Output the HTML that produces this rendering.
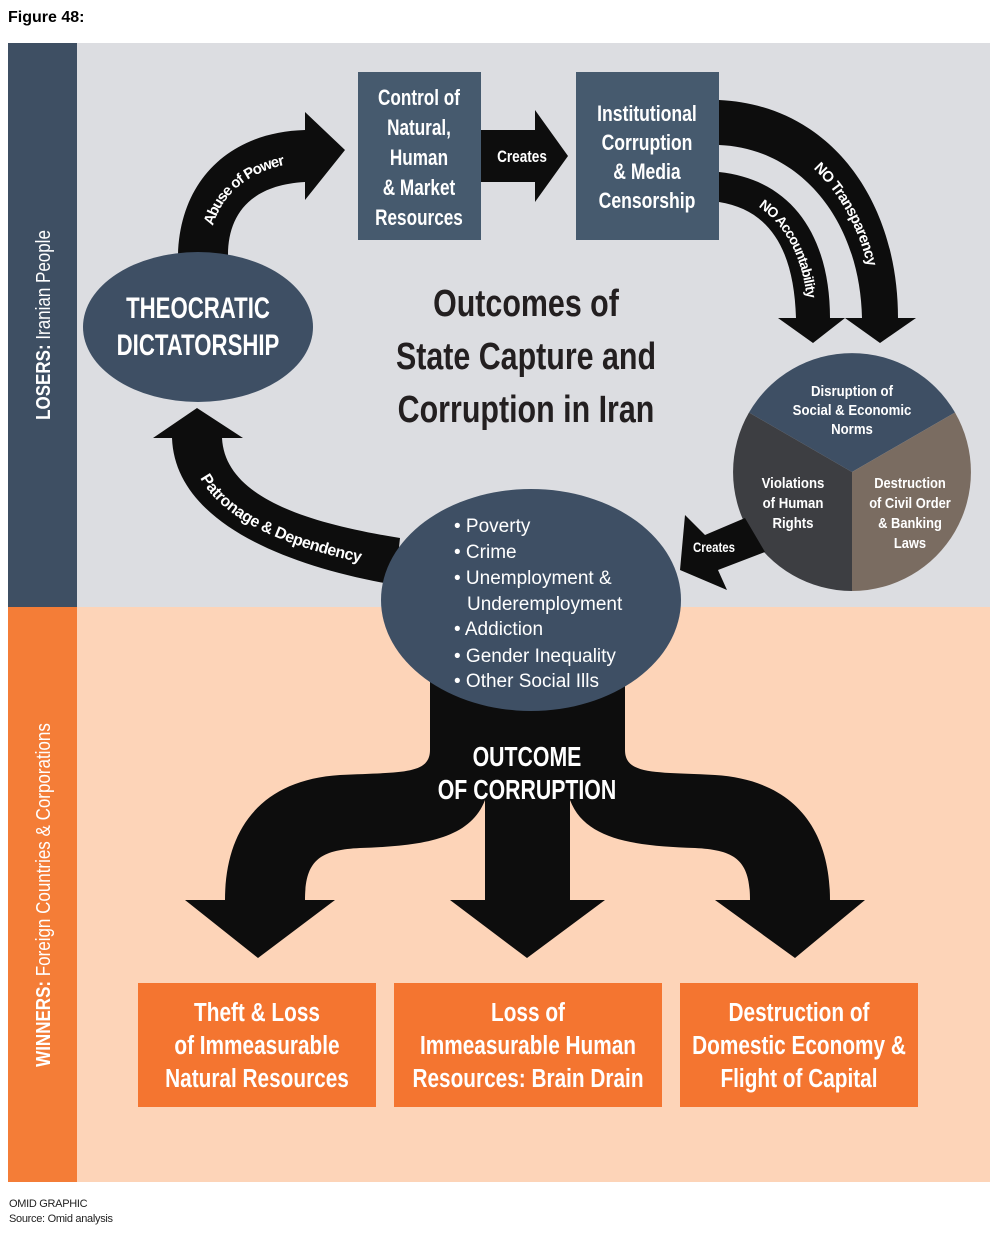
<!DOCTYPE html>
<html><head><meta charset="utf-8"><style>
html,body{margin:0;padding:0;background:#fff;}
svg{display:block;}
.c{font-family:"Liberation Sans Narrow","Liberation Sans",sans-serif;font-weight:bold;}
.r{font-family:"Liberation Sans",sans-serif;}
</style></head><body>
<svg width="1000" height="1236" viewBox="0 0 1000 1236" xmlns="http://www.w3.org/2000/svg">
<text x="8" y="22" class="r" font-weight="bold" font-size="16" fill="#000">Figure 48:</text>
<rect x="8" y="43" width="982" height="564" fill="#dcdde1"/>
<rect x="8" y="607" width="982" height="575" fill="#fdd4b8"/>
<rect x="8" y="43" width="69" height="564" fill="#3e4f63"/>
<rect x="8" y="607" width="69" height="575" fill="#f47d37"/>
<text transform="translate(50,325) rotate(-90) scale(0.85,1)" text-anchor="middle" class="c" font-size="20" fill="#fff">LOSERS:<tspan font-weight="normal"> Iranian People</tspan></text>
<text transform="translate(50,895) rotate(-90) scale(0.85,1)" text-anchor="middle" class="c" font-size="20" fill="#fff">WINNERS:<tspan font-weight="normal"> Foreign Countries &amp; Corporations</tspan></text>

<defs>
<path id="pAbuse" d="M203,252 C205,190 250,160 305,156"/>
<path id="pTrans" d="M719,122 C810,125 878,210 880,318"/>
<path id="pAcc" d="M719,187 C780,195 812,250 813,318"/>
<path id="pPat" d="M197,445 C200,510 290,545 392,562"/>
</defs>

<path d="M178,255 C180,180 230,132 305,130 L305,112 L345,150 L305,200 L305,182 C250,185 228,215 228,255 Z" fill="#0d0d0d"/>
<text class="c" font-size="15" letter-spacing="-0.6" fill="#fff" dy="6"><textPath href="#pAbuse" startOffset="52%" text-anchor="middle">Abuse of Power</textPath></text>

<rect x="358" y="72" width="123" height="168" fill="#465a6e"/>
<g class="c" font-size="22" fill="#fff" text-anchor="middle" transform="translate(419,0) scale(0.78,1) translate(-419,0)">
<text x="419" y="105">Control of</text><text x="419" y="135">Natural,</text><text x="419" y="165">Human</text><text x="419" y="195">&amp; Market</text><text x="419" y="225">Resources</text>
</g>
<path d="M481,130 L535,130 L535,110 L568,156 L535,202 L535,182 L481,182 Z" fill="#0d0d0d"/>
<text x="522" y="162" class="c" font-size="17" fill="#fff" text-anchor="middle" transform="translate(522,0) scale(0.8,1) translate(-522,0)">Creates</text>

<rect x="576" y="72" width="143" height="168" fill="#465a6e"/>
<g class="c" font-size="22" fill="#fff" text-anchor="middle" transform="translate(647,0) scale(0.8,1) translate(-647,0)">
<text x="647" y="121">Institutional</text><text x="647" y="150">Corruption</text><text x="647" y="179">&amp; Media</text><text x="647" y="208">Censorship</text>
</g>

<path d="M719,100 C830,105 898,200 898,318 L916,318 L880,343 L845,318 L862,318 C860,220 800,148 719,145 Z" fill="#0d0d0d"/>
<text class="c" font-size="15" letter-spacing="-0.5" fill="#fff" dy="6"><textPath href="#pTrans" startOffset="60%" text-anchor="middle">NO Transparency</textPath></text>
<path d="M719,172 C795,180 830,240 830,318 L845,318 L813,343 L778,318 L796,318 C794,250 770,210 719,202 Z" fill="#0d0d0d"/>
<text class="c" font-size="14" letter-spacing="-0.6" fill="#fff" dy="5"><textPath href="#pAcc" startOffset="57%" text-anchor="middle">NO Accountability</textPath></text>

<!-- Pie -->
<path d="M852,472 L749,412.5 A119,119 0 0 1 955,412.5 Z" fill="#3e4f64"/>
<path d="M852,472 L749,412.5 A119,119 0 0 0 852,591 Z" fill="#3d3e42"/>
<path d="M852,472 L955,412.5 A119,119 0 0 1 852,591 Z" fill="#7a6c61"/>
<g class="c" font-size="15" fill="#fff" text-anchor="middle">
<g transform="translate(852,0) scale(0.88,1) translate(-852,0)"><text x="852" y="396">Disruption of</text><text x="852" y="415">Social &amp; Economic</text><text x="852" y="434">Norms</text></g>
<g transform="translate(793,0) scale(0.88,1) translate(-793,0)"><text x="793" y="488">Violations</text><text x="793" y="508">of Human</text><text x="793" y="528">Rights</text></g>
<g transform="translate(910,0) scale(0.86,1) translate(-910,0)"><text x="910" y="488">Destruction</text><text x="910" y="508">of Civil Order</text><text x="910" y="528">&amp; Banking</text><text x="910" y="548">Laws</text></g>
</g>
<path d="M745,518 L705,535 L685,515 L680,570 L727,590 L718,570 L765,552 Z" fill="#0d0d0d"/>
<text x="714" y="552" class="c" font-size="14" fill="#fff" text-anchor="middle" transform="translate(714,0) scale(0.82,1) translate(-714,0)">Creates</text>

<g class="c" font-size="38" fill="#231f20" text-anchor="middle" font-weight="normal" transform="translate(526,0) scale(0.8,1) translate(-526,0)">
<text x="526" y="316">Outcomes of</text><text x="526" y="369">State Capture and</text><text x="526" y="422">Corruption in Iran</text>
</g>

<path d="M172,438 C175,520 280,565 395,585 L400,538 C300,522 225,495 222,438 L243,438 L197,408 L153,438 Z" fill="#0d0d0d"/>
<text class="c" font-size="16" letter-spacing="-0.6" fill="#fff" dy="6"><textPath href="#pPat" startOffset="50%" text-anchor="middle">Patronage &amp; Dependency</textPath></text>

<path d="M430,680 L430,750 C430,775 400,772 340,775 C260,780 225,830 225,900 L185,900 L258,958 L335,900 L305,900 C305,860 320,850 360,848 C420,846 470,840 485,800 L485,900 L450,900 L527,958 L605,900 L570,900 L570,800 C585,840 635,846 695,848 C735,850 750,860 750,900 L715,900 L795,958 L865,900 L830,900 C830,830 795,780 715,775 C655,772 625,775 625,750 L625,680 Z" fill="#0d0d0d"/>
<g class="c" font-size="28" fill="#fff" text-anchor="middle" transform="translate(527,0) scale(0.76,1) translate(-527,0)">
<text x="527" y="766">OUTCOME</text>
<text x="527" y="799">OF CORRUPTION</text>
</g>

<ellipse cx="531" cy="600" rx="150" ry="111" fill="#3e4f64"/>
<g class="r" font-size="19" fill="#fff">
<text x="454" y="532">• Poverty</text><text x="454" y="558">• Crime</text><text x="454" y="584">• Unemployment &amp;</text><text x="467" y="610">Underemployment</text><text x="454" y="635">• Addiction</text><text x="454" y="662">• Gender Inequality</text><text x="454" y="687">• Other Social Ills</text>
</g>

<ellipse cx="198" cy="327" rx="115" ry="75" fill="#3e4f64"/>
<g class="c" font-size="30" fill="#fff" text-anchor="middle" transform="translate(198,0) scale(0.74,1) translate(-198,0)">
<text x="198" y="318">THEOCRATIC</text>
<text x="198" y="355">DICTATORSHIP</text>
</g>

<rect x="138" y="983" width="238" height="124" fill="#f47530"/>
<rect x="394" y="983" width="268" height="124" fill="#f47530"/>
<rect x="680" y="983" width="238" height="124" fill="#f47530"/>
<g class="c" font-size="26" fill="#fff" text-anchor="middle">
<g transform="translate(257,0) scale(0.8,1) translate(-257,0)"><text x="257" y="1021">Theft &amp; Loss</text><text x="257" y="1054">of Immeasurable</text><text x="257" y="1087">Natural Resources</text></g>
<g transform="translate(528,0) scale(0.8,1) translate(-528,0)"><text x="528" y="1021">Loss of</text><text x="528" y="1054">Immeasurable Human</text><text x="528" y="1087">Resources: Brain Drain</text></g>
<g transform="translate(799,0) scale(0.8,1) translate(-799,0)"><text x="799" y="1021">Destruction of</text><text x="799" y="1054">Domestic Economy &amp;</text><text x="799" y="1087">Flight of Capital</text></g>
</g>

<text x="9" y="1207" class="r" font-size="11" fill="#222" letter-spacing="-0.3">OMID GRAPHIC</text>
<text x="9" y="1222" class="r" font-size="11" fill="#222" letter-spacing="-0.3">Source: Omid analysis</text>
</svg>
</body></html>
